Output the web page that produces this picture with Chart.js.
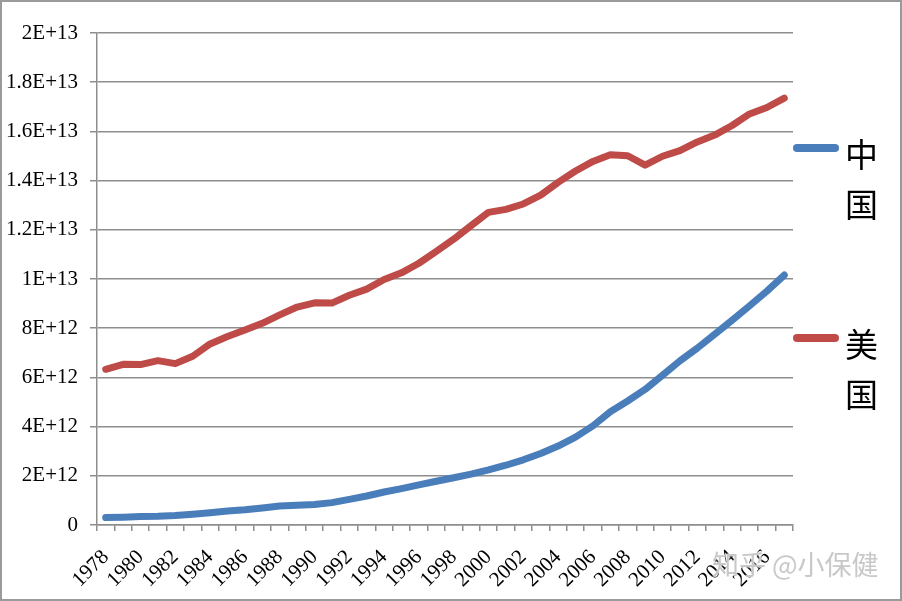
<!DOCTYPE html>
<html>
<head>
<meta charset="utf-8">
<script src="https://cdn.jsdelivr.net/npm/chart.js@4/dist/chart.umd.min.js"></script>
<style>
  html, body { margin: 0; padding: 0; background: #fff; }
  #wrap { position: relative; width: 902px; height: 601px; overflow: hidden; }
  #frame { position: absolute; left: 0; top: 0; width: 902px; height: 601px; box-sizing: border-box; border: 2px solid #9a9a9a; pointer-events: none; }
  canvas { position: absolute; left: 0; top: 0; }
  .lg-line { position: absolute; width: 46px; height: 8px; border-radius: 4px; }
  .lg-text { position: absolute; font-family: "Noto Sans CJK SC", serif; font-size: 33px; line-height: 50px; color: #000; }
  #wm { position: absolute; left: 712px; top: 546px; font-family: "Noto Sans CJK SC", sans-serif; font-size: 27px; line-height: 36px; color: rgba(190,190,190,0.85); white-space: nowrap; text-shadow: 0 0 2px #fff, 0 0 2px #fff; }
</style>
</head>
<body>
<div id="wrap">
  <canvas id="c" width="902" height="601"></canvas>
  <div class="lg-line" id="l1" style="left:793px;top:144px;background:#4a7ebb;"></div>
  <div class="lg-text" style="left:845px;top:128px;">中<br>国</div>
  <div class="lg-line" id="l2" style="left:793px;top:334px;background:#be4b48;"></div>
  <div class="lg-text" style="left:845px;top:318px;">美<br>国</div>
  <div id="wm">知乎 @小保健</div>
  <div id="frame"></div>
</div>
<script>
const years = [1978,1979,1980,1981,1982,1983,1984,1985,1986,1987,1988,1989,1990,1991,1992,1993,1994,1995,1996,1997,1998,1999,2000,2001,2002,2003,2004,2005,2006,2007,2008,2009,2010,2011,2012,2013,2014,2015,2016,2017];
const chinaGDP = [0.30e12,0.32e12,0.35e12,0.36e12,0.39e12,0.44e12,0.50e12,0.57e12,0.62e12,0.69e12,0.77e12,0.80e12,0.83e12,0.91e12,1.04e12,1.18e12,1.34e12,1.48e12,1.63e12,1.78e12,1.92e12,2.07e12,2.24e12,2.43e12,2.65e12,2.91e12,3.21e12,3.57e12,4.03e12,4.60e12,5.04e12,5.51e12,6.09e12,6.67e12,7.19e12,7.75e12,8.32e12,8.91e12,9.51e12,10.16e12];
const usaGDP = [6.33e12,6.53e12,6.52e12,6.68e12,6.56e12,6.86e12,7.36e12,7.66e12,7.93e12,8.20e12,8.54e12,8.86e12,9.03e12,9.02e12,9.34e12,9.59e12,9.98e12,10.25e12,10.64e12,11.12e12,11.62e12,12.17e12,12.71e12,12.83e12,13.05e12,13.41e12,13.93e12,14.39e12,14.78e12,15.05e12,15.01e12,14.63e12,14.99e12,15.22e12,15.57e12,15.85e12,16.24e12,16.71e12,16.97e12,17.35e12];
const seriesNames = ['中国','美国'];
const yMax = 2e13, yStep = 2e12;

function fmt(v) {
  if (v === 0) return '0';
  const e = Math.floor(Math.log10(v) + 1e-9);
  const m = Math.round(v / Math.pow(10, e) * 10) / 10;
  return m + 'E+' + e;
}
const gridColor = '#8e8e8e';
const tickFont = { family: '"Liberation Serif", "DejaVu Serif", serif', size: 21 };

new Chart(document.getElementById('c'), {
  type: 'line',
  data: {
    labels: years.map(String),
    datasets: [
      { label: seriesNames[0], data: chinaGDP, borderColor: '#4a7ebb', backgroundColor: '#4a7ebb', borderWidth: 7, pointRadius: 0, tension: 0, borderCapStyle: 'round', borderJoinStyle: 'round' },
      { label: seriesNames[1], data: usaGDP, borderColor: '#be4b48', backgroundColor: '#be4b48', borderWidth: 7, pointRadius: 0, tension: 0, borderCapStyle: 'round', borderJoinStyle: 'round' }
    ]
  },
  options: {
    responsive: false,
    animation: false,
    devicePixelRatio: 1,
    layout: { padding: { left: 0, right: 109, top: 33, bottom: 0 } },
    plugins: { legend: { display: false }, tooltip: { enabled: false } },
    scales: {
      x: {
        type: 'category',
        offset: true,
        grid: { offset: true, drawOnChartArea: false, drawTicks: true, tickLength: 6, color: gridColor, lineWidth: 1.5 },
        border: { color: gridColor, width: 1.5 },
        ticks: {
          autoSkip: false, maxRotation: 45, minRotation: 45, padding: 14,
          color: '#000', font: tickFont,
          callback: function (v, i) { return i % 2 === 0 ? String(years[i]) : ''; }
        },
        afterFit: function (s) { s.height = 76; }
      },
      y: {
        min: 0, max: yMax,
        grid: { color: gridColor, lineWidth: 1.5, tickLength: 7, drawTicks: true },
        border: { color: gridColor, width: 1.5 },
        ticks: { stepSize: yStep, padding: 12, color: '#000', font: tickFont, callback: function (v) { return fmt(v); } },
        afterFit: function (s) { s.width = 97; }
      }
    }
  }
});
</script>
</body>
</html>
